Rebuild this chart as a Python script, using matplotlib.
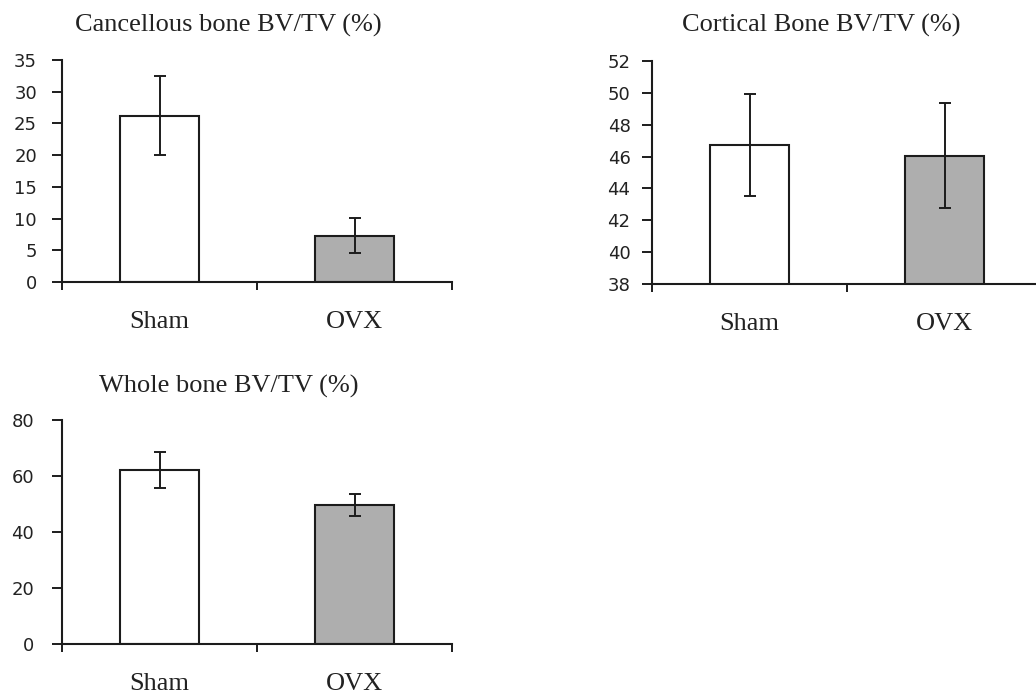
import matplotlib
matplotlib.use("Agg")
import matplotlib.pyplot as plt

# Group labels and measurements (mean, SD)
groups = ["Sham", "OVX"]

cancellous_mean = [26.2, 7.3]
cancellous_err = [6.2, 2.8]

cortical_mean = [46.7, 46.05]
cortical_err = [3.2, 3.3]

whole_mean = [62.1, 49.5]
whole_err = [6.4, 3.9]

titles = ["Cancellous bone BV/TV (%)", "Cortical Bone BV/TV (%)", "Whole bone BV/TV (%)"]
ytick_sets = [list(range(0, 36, 5)), list(range(38, 53, 2)), list(range(0, 81, 20))]
ylims = [(0, 35), (38, 52), (0, 80)]

W, H = 1036, 696
fig = plt.figure(figsize=(W / 100, H / 100), dpi=100)
fig.patch.set_facecolor("white")

ink = "#1c1c1c"
bar_colors = ["white", "#aeaeae"]
serif = ["Liberation Serif", "DejaVu Serif"]


def px_axes(left, top, right, bottom):
    return fig.add_axes([left / W, 1 - bottom / H, (right - left) / W, (bottom - top) / H])


def panel(ax, means, errs, yticks, ylim, ypad):
    x = [0.5, 1.5]
    ax.bar(x, means, width=0.41, color=bar_colors, edgecolor=ink, linewidth=1.5, zorder=2)
    ax.errorbar(x, means, yerr=errs, fmt="none", ecolor=ink, elinewidth=1.4,
                capsize=4.5, capthick=1.4, zorder=3)
    ax.set_xlim(0, 2)
    ax.set_ylim(*ylim)
    ax.set_yticks(yticks)
    ax.set_xticks([0, 1, 2])
    ax.set_xticklabels([])
    ax.set_xticks(x, groups, minor=True)
    for s in ("top", "right"):
        ax.spines[s].set_visible(False)
    for s in ("left", "bottom"):
        ax.spines[s].set_color(ink)
        ax.spines[s].set_linewidth(1.5)
    ax.tick_params(axis="y", direction="out", length=7, width=1.4, color=ink,
                   labelsize=13, labelcolor="#222222", pad=ypad)
    ax.tick_params(axis="x", which="major", direction="out", length=6, width=1.4, color=ink)
    ax.tick_params(axis="x", which="minor", length=0, pad=21)
    for lab in ax.get_xticklabels(minor=True):
        lab.set_fontfamily(serif)
        lab.set_fontsize(19)
        lab.set_color("#222222")
    ax.set_facecolor("none")


ax1 = px_axes(62, 60, 452, 282)
panel(ax1, cancellous_mean, cancellous_err, ytick_sets[0], ylims[0], 11)

ax2 = px_axes(652, 61, 1042, 284)
panel(ax2, cortical_mean, cortical_err, ytick_sets[1], ylims[1], 8.5)

ax3 = px_axes(62, 420, 452, 644)
panel(ax3, whole_mean, whole_err, ytick_sets[2], ylims[2], 13)

# Panel titles
for (cx, by), t in zip([(228, 32), (821, 32), (229, 393)], titles):
    fig.text(cx / W, 1 - by / H, t, ha="center", va="baseline",
             fontsize=19, family=serif, color="#222222")

fig.savefig("out.png", dpi=100, facecolor="white")
